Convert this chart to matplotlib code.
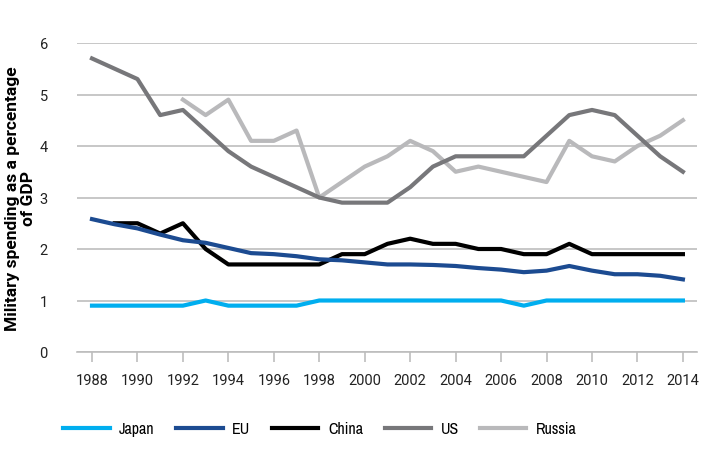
import matplotlib.pyplot as plt
from matplotlib import font_manager

plt.rcParams["font.family"] = ["Roboto", "DejaVu Sans"]

years = list(range(1988, 2015))
japan = [0.9, 0.9, 0.9, 0.9, 0.9, 1.0, 0.9, 0.9, 0.9, 0.9, 1.0, 1.0, 1.0, 1.0,
         1.0, 1.0, 1.0, 1.0, 1.0, 0.9, 1.0, 1.0, 1.0, 1.0, 1.0, 1.0, 1.0]
eu = [2.58, 2.48, 2.4, 2.28, 2.17, 2.12, 2.02, 1.92, 1.9, 1.86, 1.8, 1.78, 1.74,
      1.7, 1.7, 1.69, 1.67, 1.63, 1.6, 1.55, 1.58, 1.67, 1.58, 1.51, 1.51, 1.48, 1.41]
china_years = list(range(1989, 2015))
china = [2.5, 2.5, 2.3, 2.5, 2.0, 1.7, 1.7, 1.7, 1.7, 1.7, 1.9, 1.9, 2.1, 2.2,
         2.1, 2.1, 2.0, 2.0, 1.9, 1.9, 2.1, 1.9, 1.9, 1.9, 1.9, 1.9]
us = [5.7, 5.5, 5.3, 4.6, 4.7, 4.3, 3.9, 3.6, 3.4, 3.2, 3.0, 2.9, 2.9, 2.9,
      3.2, 3.6, 3.8, 3.8, 3.8, 3.8, 4.2, 4.6, 4.7, 4.6, 4.2, 3.8, 3.5]
russia_years = list(range(1992, 2015))
russia = [4.9, 4.6, 4.9, 4.1, 4.1, 4.3, 3.0, 3.3, 3.6, 3.8, 4.1, 3.9, 3.5, 3.6,
          3.5, 3.4, 3.3, 4.1, 3.8, 3.7, 4.0, 4.2, 4.5]
x_ticks = list(range(1988, 2015, 2))
y_ticks = [0, 1, 2, 3, 4, 5, 6]

# narrow face for the legend if it is there
narrow = [f.name for f in font_manager.fontManager.ttflist if "Narrow" in f.name]
narrow_family = [narrow[0], "Roboto"] if narrow else ["Roboto"]

fig = plt.figure(figsize=(7.01, 4.77), dpi=100)
ax = fig.add_axes([77 / 701, 1 - 353 / 477, 620 / 701, 309 / 477])

lw = 3.0
ax.plot(years, japan, color="#00aeef", lw=lw, label="Japan", zorder=3)
ax.plot(years, eu, color="#1c4b91", lw=lw, label="EU", zorder=4)
ax.plot(china_years, china, color="#000000", lw=lw, label="China", zorder=3)
ax.plot(years, us, color="#77777a", lw=lw, label="US", zorder=3)
ax.plot(russia_years, russia, color="#b9b9bb", lw=lw, label="Russia", zorder=2)

ax.set_xlim(1987.34, 2014.62)
ax.set_ylim(0, 6)
ax.set_xticks(x_ticks)
ax.set_yticks(y_ticks)
ax.grid(axis="y", color="#bdbdbd", lw=1.2)
ax.set_axisbelow(True)
for side in ["top", "right", "left"]:
    ax.spines[side].set_visible(False)
ax.spines["bottom"].set_color("#bdbdbd")
ax.spines["bottom"].set_linewidth(1.2)
ax.tick_params(axis="x", length=7, width=1.2, color="#bdbdbd", pad=8,
               labelsize=10.5, labelcolor="#222222")
ax.tick_params(axis="y", length=0, pad=21, labelsize=10.5, labelcolor="#222222")
ax.set_ylabel("Military spending as a percentage\nof GDP", fontsize=12.5,
              fontweight="bold", linespacing=1.1)
ax.yaxis.set_label_coords(-0.066, 0.5)

fig.legend(loc="center", bbox_to_anchor=(320 / 701, 1 - 430 / 477), ncol=5,
           frameon=False, handlelength=2.9, columnspacing=1.35, handletextpad=0.6,
           prop={"family": narrow_family, "size": 11.5})

fig.savefig("out.png", dpi=100)
